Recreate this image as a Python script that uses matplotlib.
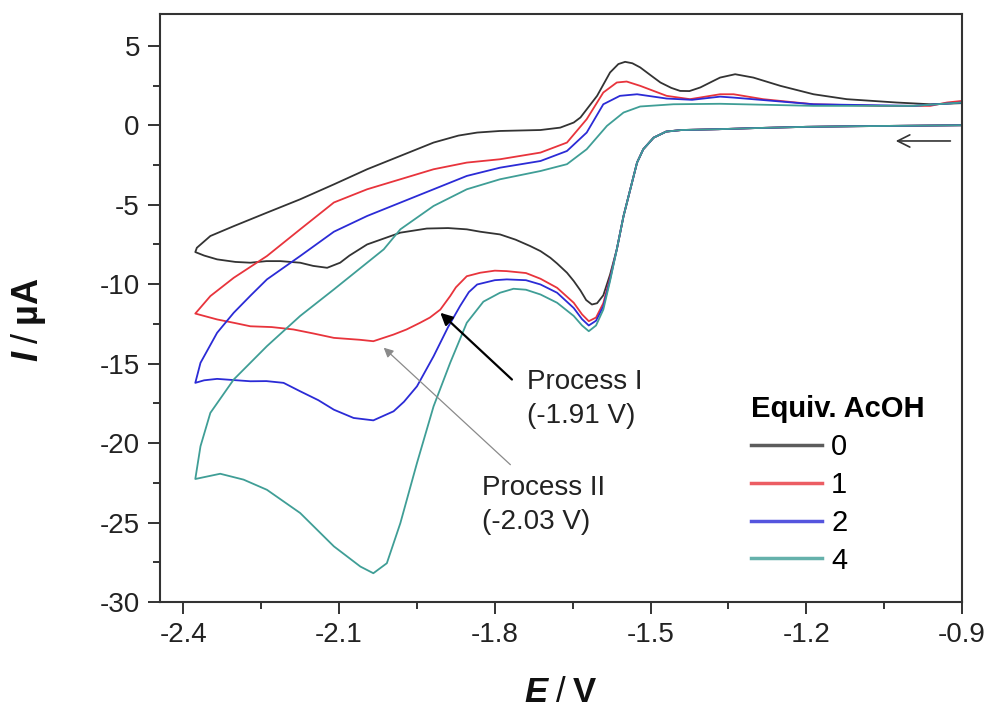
import matplotlib
matplotlib.use('Agg')
import matplotlib.pyplot as plt

plt.rcParams['font.family'] = ['Liberation Sans', 'DejaVu Sans']
plt.rcParams['axes.unicode_minus'] = False
plt.rcParams['mathtext.fontset'] = 'custom'
plt.rcParams['mathtext.rm'] = 'Liberation Sans'
plt.rcParams['mathtext.it'] = 'Liberation Sans:italic'
plt.rcParams['mathtext.bf'] = 'Liberation Sans:bold'
plt.rcParams['mathtext.bfit'] = 'Liberation Sans:italic:bold'

# ---- data (E in V, I in uA) ----
equiv = ['0', '1', '2', '4']
colors = ['#333333', '#e8343c', '#2b2bd6', '#3f9e96']

# cathodic sweep from -0.9 V, identical for all traces down to the first wave
E_onset = [-0.90, -1.00, -1.10, -1.20, -1.30, -1.37, -1.44, -1.47, -1.494,
           -1.514, -1.526, -1.539, -1.552, -1.565]
I_onset = [0.0, -0.03, -0.06, -0.10, -0.18, -0.25, -0.30, -0.40, -0.78,
           -1.51, -2.35, -4.03, -5.71, -7.81]

# 0 equiv: rest of forward sweep + reverse sweep
E_0 = [-1.578, -1.591, -1.603, -1.613, -1.624, -1.635, -1.648, -1.661, -1.68,
       -1.693, -1.712, -1.732, -1.76, -1.79, -1.828, -1.854, -1.89, -1.931,
       -1.982, -2.046, -2.08, -2.098, -2.123, -2.15, -2.175, -2.213, -2.24,
       -2.271, -2.30, -2.335, -2.36, -2.377,
       -2.374, -2.348, -2.303, -2.239, -2.175, -2.11, -2.046, -1.982, -1.918,
       -1.87, -1.834, -1.79, -1.712, -1.674, -1.648, -1.635, -1.603, -1.578,
       -1.562, -1.549, -1.535, -1.52, -1.50, -1.481, -1.46, -1.443, -1.425,
       -1.404, -1.379, -1.366, -1.337, -1.302, -1.25, -1.186, -1.122, -1.026,
       -0.961, -0.90]
I_0 = [-9.4, -10.7, -11.2, -11.28, -11.0, -10.4, -9.8, -9.28, -8.7,
       -8.34, -7.92, -7.6, -7.2, -6.87, -6.7, -6.55, -6.47, -6.5,
       -6.76, -7.5, -8.2, -8.65, -8.97, -8.85, -8.65, -8.55, -8.55,
       -8.65, -8.6, -8.44, -8.2, -7.98,
       -7.71, -6.97, -6.35, -5.5, -4.66, -3.72, -2.77, -1.93, -1.09,
       -0.65, -0.46, -0.36, -0.30, -0.15, 0.17, 0.49, 1.85, 3.32,
       3.85, 3.99, 3.9, 3.64, 3.15, 2.69, 2.35, 2.16, 2.15,
       2.38, 2.79, 3.0, 3.21, 3.0, 2.48, 1.95, 1.64, 1.43,
       1.32, 1.39]

# 1 equiv
E_1 = [-1.578, -1.591, -1.605, -1.619, -1.632, -1.648, -1.68, -1.712, -1.74,
       -1.777, -1.80, -1.828, -1.854, -1.875, -1.886, -1.905, -1.925, -1.944,
       -1.97, -1.995, -2.034, -2.06, -2.11, -2.15, -2.188, -2.23, -2.271,
       -2.30, -2.335, -2.377,
       -2.348, -2.303, -2.239, -2.175, -2.11, -2.046, -1.982, -1.918, -1.854,
       -1.79, -1.712, -1.661, -1.623, -1.591, -1.565, -1.546, -1.52, -1.469,
       -1.424, -1.366, -1.34, -1.283, -1.186, -1.058, -0.961, -0.929, -0.90]
I_1 = [-9.6, -11.2, -12.1, -12.33, -11.9, -11.17, -10.23, -9.66, -9.3,
       -9.18, -9.15, -9.28, -9.5, -10.2, -10.75, -11.6, -12.1, -12.43,
       -12.85, -13.17, -13.59, -13.5, -13.38, -13.1, -12.85, -12.7, -12.65,
       -12.45, -12.22, -11.85,
       -10.75, -9.6, -8.23, -6.55, -4.86, -4.03, -3.4, -2.77, -2.35,
       -2.14, -1.72, -1.09, 0.38, 2.06, 2.69, 2.75, 2.48, 1.85,
       1.64, 1.95, 1.95, 1.64, 1.32, 1.22, 1.22, 1.43, 1.53]

# 2 equiv
E_2 = [-1.578, -1.591, -1.605, -1.619, -1.632, -1.648, -1.68, -1.712, -1.74,
       -1.777, -1.80, -1.834, -1.85, -1.867, -1.89, -1.918, -1.95, -1.975,
       -1.995, -2.034, -2.072, -2.11, -2.14, -2.175, -2.207, -2.24, -2.271,
       -2.335, -2.36, -2.377,
       -2.367, -2.335, -2.303, -2.27, -2.239, -2.175, -2.11, -2.046, -1.982,
       -1.918, -1.854, -1.79, -1.712, -1.661, -1.623, -1.591, -1.559, -1.526,
       -1.469, -1.42, -1.366, -1.34, -1.186, -0.993, -0.90]
I_2 = [-9.7, -11.4, -12.3, -12.6, -12.2, -11.5, -10.54, -10.02, -9.75,
       -9.7, -9.75, -10.02, -10.5, -11.38, -12.7, -14.54, -16.43, -17.4,
       -18.0, -18.57, -18.42, -17.9, -17.3, -16.74, -16.21, -16.1, -16.11,
       -15.96, -16.05, -16.21,
       -14.95, -13.06, -11.8, -10.7, -9.7, -8.23, -6.7, -5.71, -4.87,
       -4.03, -3.19, -2.67, -2.25, -1.62, -0.46, 1.32, 1.85, 1.95,
       1.68, 1.6, 1.8, 1.74, 1.32, 1.22, 1.43]

# 4 equiv
E_4 = [-1.578, -1.591, -1.605, -1.619, -1.632, -1.648, -1.68, -1.712, -1.74,
       -1.764, -1.79, -1.822, -1.854, -1.886, -1.918, -1.95, -1.982, -2.008,
       -2.034, -2.059, -2.11, -2.175, -2.239, -2.284, -2.329, -2.377,
       -2.367, -2.348, -2.303, -2.239, -2.175, -2.11, -2.046, -2.014, -1.982,
       -1.918, -1.854, -1.79, -1.712, -1.661, -1.623, -1.584, -1.552, -1.52,
       -1.456, -1.366, -1.186, -0.993, -0.90]
I_4 = [-9.8, -11.6, -12.6, -12.96, -12.6, -12.0, -11.17, -10.65, -10.35,
       -10.29, -10.54, -11.1, -12.43, -14.95, -17.69, -21.26, -25.04, -27.56,
       -28.19, -27.77, -26.5, -24.4, -22.94, -22.3, -21.93, -22.26,
       -20.2, -18.1, -16.0, -13.9, -12.0, -10.33, -8.65, -7.81, -6.55,
       -5.08, -4.03, -3.4, -2.88, -2.45, -1.51, -0.04, 0.80, 1.18,
       1.32, 1.35, 1.22, 1.22, 1.43]

traces = [(E_0, I_0), (E_1, I_1), (E_2, I_2), (E_4, I_4)]

x_ticks = [-2.4, -2.1, -1.8, -1.5, -1.2, -0.9]
x_minor = [-2.25, -1.95, -1.65, -1.35, -1.05]
y_ticks = [-30, -25, -20, -15, -10, -5, 0, 5]
y_minor = [-27.5, -22.5, -17.5, -12.5, -7.5, -2.5, 2.5]

# ---- figure ----
fig = plt.figure(figsize=(9.92, 7.13), dpi=100)
ax = fig.add_axes([160 / 992, 111 / 713, 802 / 992, 588 / 713])

for (E, I), col, lab in zip(traces, colors, equiv):
    ax.plot(E_onset + E, I_onset + I, color=col, lw=1.3, label=lab,
            solid_joinstyle='round')

ax.set_xlim(-2.445, -0.9)
ax.set_ylim(-30, 7)
ax.set_xticks(x_ticks)
ax.set_xticks(x_minor, minor=True)
ax.set_yticks(y_ticks)
ax.set_yticks(y_minor, minor=True)
ax.set_xticklabels([str(v) for v in x_ticks])
ax.set_yticklabels([str(v) for v in y_ticks])
ax.tick_params(which='both', direction='out', top=False, right=False,
               width=1.4, color='#333333', labelsize=20, labelcolor='#222222')
ax.tick_params(which='major', length=8.5, pad=6)
ax.tick_params(which='minor', length=5)
for sp in ax.spines.values():
    sp.set_linewidth(1.5)
    sp.set_color('#333333')

ax.set_xlabel(r'$\mathbfit{E}\;\mathit{/}\;\mathbf{V}$', fontsize=25, color='#111111')
ax.set_ylabel(r'$\mathbfit{I}\;\mathit{/}\;\mathbf{µA}$', fontsize=26, color='#111111')
ax.xaxis.set_label_coords(0.5, -0.125)
ax.yaxis.set_label_coords(-0.14, 0.48)

# scan direction arrow
ax.annotate('', xy=(-1.033, -0.99), xytext=(-0.917, -0.99),
            arrowprops=dict(arrowstyle='->', color='#333333', lw=1.2,
                            mutation_scale=22))

# process labels
ax.annotate('', xy=(-1.905, -11.8), xytext=(-1.767, -16.0),
            arrowprops=dict(arrowstyle='-|>', color='black', lw=1.6,
                            mutation_scale=18, shrinkA=0, shrinkB=0))
ax.annotate('', xy=(-2.014, -14.0), xytext=(-1.770, -21.36),
            arrowprops=dict(arrowstyle='-|>', color='#8a8a8a', lw=0.9,
                            mutation_scale=14, shrinkA=0, shrinkB=0))
ax.text(-1.738, -17.23, 'Process I\n(-1.91 V)', fontsize=20, ha='left',
        va='center', linespacing=1.4, color='#222222')
ax.text(-1.824, -23.91, 'Process II\n(-2.03 V)', fontsize=20, ha='left',
        va='center', linespacing=1.4, color='#222222')

leg = ax.legend(loc='upper left', bbox_to_anchor=(751 / 992, 1 - 395 / 713),
                bbox_transform=fig.transFigure, frameon=False, fontsize=21,
                title='Equiv. AcOH', title_fontproperties={'weight': 'bold', 'size': 21},
                alignment='left', handlelength=2.45, handletextpad=0.3,
                labelspacing=0.34, borderpad=0, borderaxespad=0)
for h in leg.get_lines():
    h.set_linewidth(2.5)
    h.set_alpha(0.8)

fig.savefig('out.png', dpi=100)
